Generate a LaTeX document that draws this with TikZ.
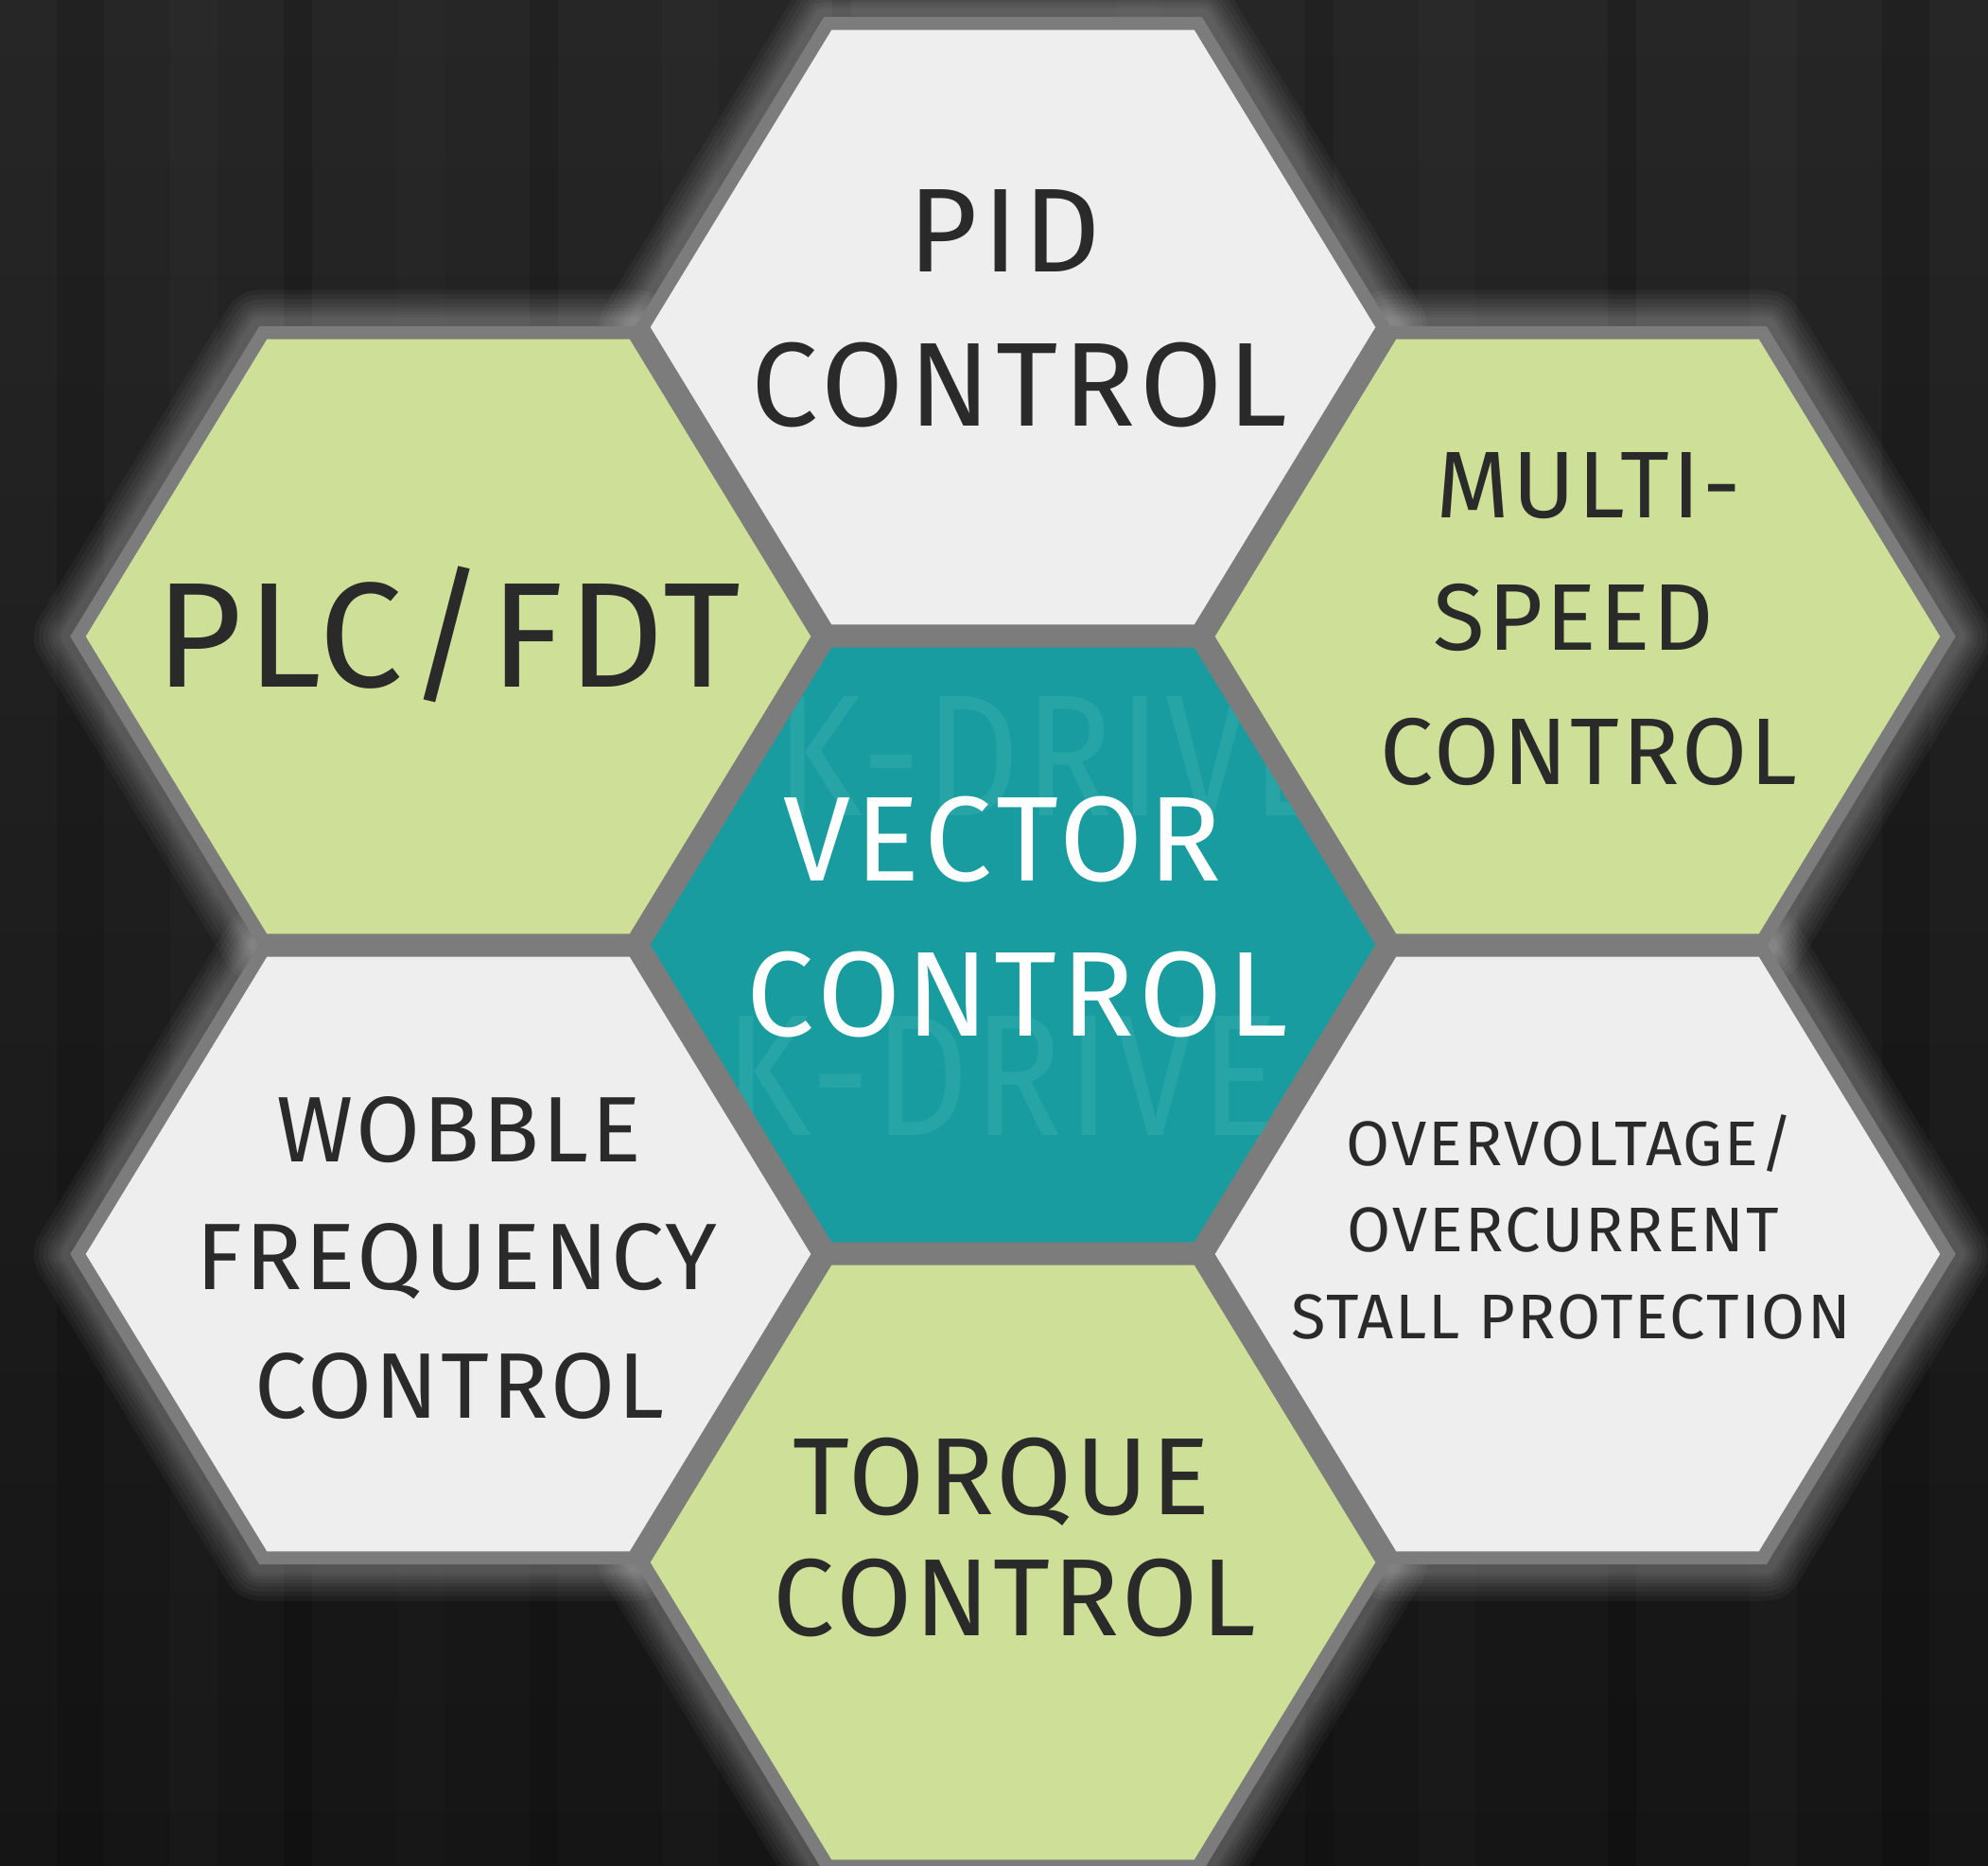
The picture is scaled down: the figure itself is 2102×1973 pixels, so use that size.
\documentclass[tikz,border=0pt]{standalone}
\usepackage{fontspec}
\setmainfont{Fira Sans}
\newfontfamily\lab{Fira Sans}[LetterSpace=3]
\newfontfamily\labw{Fira Sans}[LetterSpace=4.5]
\definecolor{bgA}{HTML}{262626}
\definecolor{bgB}{HTML}{151515}
\definecolor{hexgray}{HTML}{7C7C7C}
\definecolor{lightfill}{HTML}{EEEEEE}
\definecolor{greenfill}{HTML}{CEE097}
\definecolor{tealfill}{HTML}{199C9F}
\definecolor{txt}{HTML}{2A2A2A}
\definecolor{wm}{HTML}{27A4A6}
\newcommand\hexshape[4]{%
  \path[#1] ({#2+398*#4},#3) -- ({#2+199*#4},{#3+326.5*#4}) -- ({#2-199*#4},{#3+326.5*#4})
    -- ({#2-398*#4},#3) -- ({#2-199*#4},{#3-326.5*#4}) -- ({#2+199*#4},{#3-326.5*#4}) -- cycle;}
\newcommand\fsz[1]{\lab\fontsize{#1}{#1}\selectfont}
\newcommand\fszw[1]{\labw\fontsize{#1}{#1}\selectfont}
\tikzset{
  lbl/.style={anchor=base, inner sep=0pt, text=txt},
  wlbl/.style={anchor=base, inner sep=0pt, text=white},
  wmark/.style={anchor=base west, inner sep=0pt, text=wm, xscale=0.85, font=\fsz{52}},
}
\begin{document}
\begin{tikzpicture}[x=0.1mm, y=-0.1mm]
\useasboundingbox (0,0) rectangle (2102,1973);
% background
\shade[top color=bgA, bottom color=bgB] (0,0) rectangle (2102,1973);
\foreach \a/\b/\c/\o in {60/110/black/0.12, 180/230/white/0.015, 300/330/black/0.15, 420/470/white/0.012,
  560/590/black/0.12, 700/760/white/0.015, 880/900/black/0.15, 1180/1230/white/0.015, 1380/1410/black/0.12,
  1500/1560/white/0.015, 1700/1730/black/0.15, 1850/1900/white/0.02, 1990/2040/black/0.15}
  {\fill[\c, opacity=\o] (\a,0) rectangle (\b,1973);}
% glow
\foreach \w in {8mm,7mm,6mm,5mm,4.2mm,3.5mm,2.8mm,2.2mm}{
  \foreach \x/\y in {1071/346, 474/673, 1668/673, 1071/999, 474/1326, 1668/1326, 1071/1652}{
    \hexshape{draw=white, line width=\w, opacity=0.04, line join=round}{\x}{\y}{1}
  }
}
% gray frame
\foreach \x/\y in {1071/346, 474/673, 1668/673, 1071/999, 474/1326, 1668/1326, 1071/1652}{
  \hexshape{fill=hexgray, draw=hexgray, line width=0.3mm}{\x}{\y}{1}
}
% fills
\hexshape{fill=lightfill}{1071}{346}{0.963}
\hexshape{fill=greenfill}{474}{673}{0.963}
\hexshape{fill=greenfill}{1668}{673}{0.963}
\hexshape{fill=tealfill}{1071}{999}{0.963}
\hexshape{fill=lightfill}{474}{1326}{0.963}
\hexshape{fill=lightfill}{1668}{1326}{0.963}
\hexshape{fill=greenfill}{1071}{1652}{0.963}
% watermark in the centre cell
\begin{scope}
  \hexshape{clip}{1071}{999}{0.963}
  \node[wmark] (wm1) at (820,862) {K-DRIVE};
  \node[wmark] (wm2) at (766,1200) {K-DRIVE};
\end{scope}
% labels
\node[lbl, font=\fszw{35.9}] (pid1) at (1062,288) {PID};
\node[lbl, font=\fszw{35.9}] (pid2) at (1078,451) {CONTROL};
\node[wlbl, font=\fszw{36.3}] (vec1) at (1060,931) {VECTOR};
\node[wlbl, font=\fszw{36.3}] (vec2) at (1076,1095) {CONTROL};
\node[lbl, font=\fsz{45}] (plc) at (474,726) {PLC/FDT};
\node[lbl, font=\fsz{28.5}] (mul1) at (1680,548) {MULTI-};
\node[lbl, font=\fsz{28.5}] (mul2) at (1664,688) {SPEED};
\node[lbl, font=\fsz{28.5}] (mul3) at (1680,829) {CONTROL};
\node[lbl, font=\fsz{28}] (wob1) at (485,1228) {WOBBLE};
\node[lbl, font=\fsz{28.4}] (wob2) at (483,1363) {FREQUENCY};
\node[lbl, font=\fsz{28}] (wob3) at (486,1499) {CONTROL};
\node[lbl, font=\fsz{19}] (ovr1) at (1660,1232) {OVERVOLTAGE/};
\node[lbl, font=\fsz{19}] (ovr2) at (1653,1323) {OVERCURRENT};
\node[lbl, font=\fsz{19}] (ovr3) at (1661,1415) {STALL PROTECTION};
\node[lbl, font=\fsz{33}] (tor1) at (1059,1601) {TORQUE};
\node[lbl, font=\fsz{33}] (tor2) at (1073,1729) {CONTROL};
\end{tikzpicture}
\end{document}
